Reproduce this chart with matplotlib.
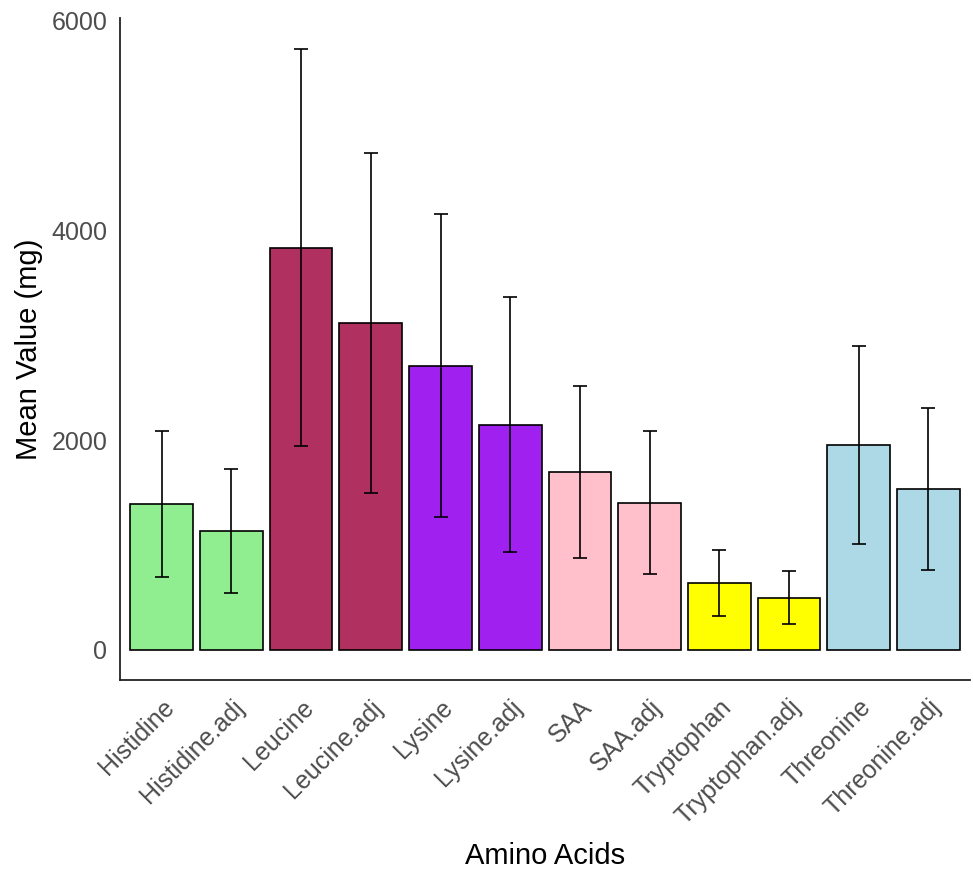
import numpy as np
import matplotlib.pyplot as plt

plt.rcParams['font.family'] = ['Liberation Sans', 'DejaVu Sans']

amino_acids = ["Histidine", "Histidine.adj", "Leucine", "Leucine.adj", "Lysine", "Lysine.adj",
               "SAA", "SAA.adj", "Tryptophan", "Tryptophan.adj", "Threonine", "Threonine.adj"]
mean_values = [1393, 1135, 3836, 3120, 2710, 2147, 1698, 1403, 639, 496, 1956, 1536]
sd_values = [695, 588, 1895, 1620, 1445, 1215, 820, 683, 313, 252, 945, 773]
bar_colors = ["#90EE90", "#90EE90", "#B03060", "#B03060", "#A020F0", "#A020F0",
              "#FFC0CB", "#FFC0CB", "#FFFF00", "#FFFF00", "#ADD8E6", "#ADD8E6"]

fig = plt.figure(figsize=(9.73, 8.71), dpi=100)
ax = fig.add_axes([0.1233, 0.2193, 0.8737, 0.7597])

x = np.arange(1, len(amino_acids) + 1)
ax.bar(x, mean_values, width=0.9, color=bar_colors, edgecolor="black", linewidth=1.2, zorder=2)
ax.errorbar(x, mean_values, yerr=sd_values, fmt="none", ecolor="black",
            elinewidth=1.2, capsize=5, capthick=1.2, zorder=3)

ax.set_xlim(0.4, 12.6)
ax.set_ylim(-287, 6022)
ax.set_yticks([0, 2000, 4000, 6000])
ax.set_xticks(x)
ax.set_xticklabels(amino_acids, rotation=45, ha="right", va="top", rotation_mode="anchor")
ax.tick_params(axis="both", length=0, labelsize=18, colors="#4D4D4D")
ax.tick_params(axis="y", pad=9)
ax.tick_params(axis="x", pad=11)

for side in ["top", "right"]:
    ax.spines[side].set_visible(False)
for side in ["left", "bottom"]:
    ax.spines[side].set_linewidth(1.3)
    ax.spines[side].set_color("#222222")

ax.set_xlabel("Amino Acids", fontsize=21, labelpad=9)
ax.set_ylabel("Mean Value (mg)", fontsize=21, labelpad=6)

fig.savefig("out.png", dpi=100)
